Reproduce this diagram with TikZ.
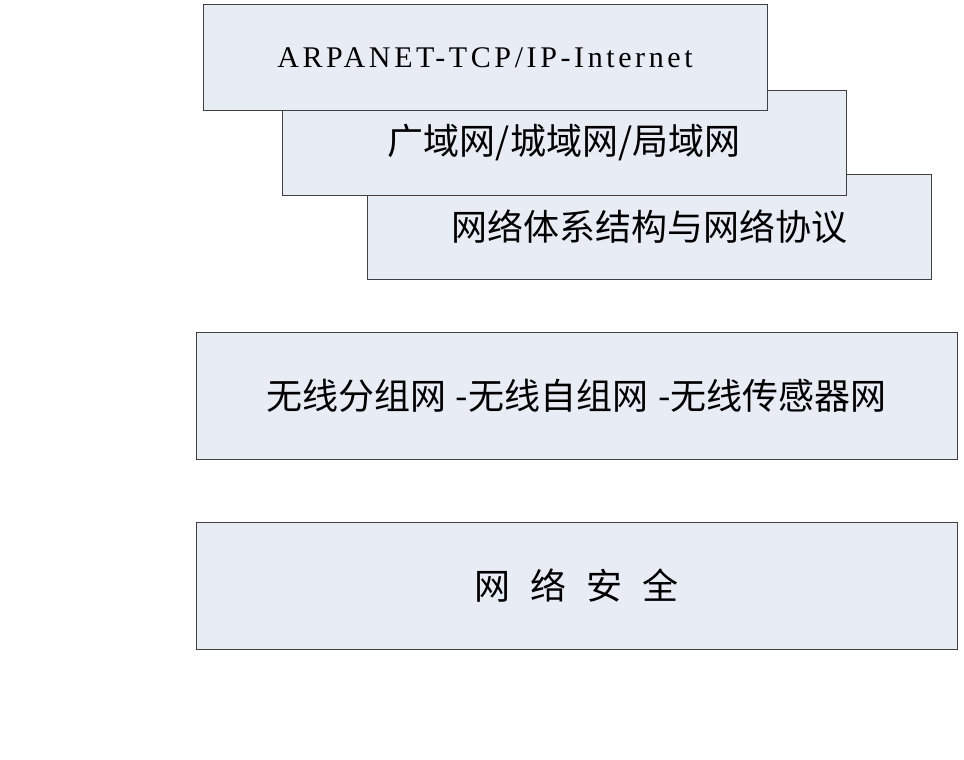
\documentclass[tikz,border=0pt]{standalone}
\usepackage{fontspec}
\newfontfamily\cjk{Noto Sans CJK SC}
\newfontfamily\latinserif[LetterSpace=12]{Liberation Serif}
\newcommand\gapsec{\hspace{20pt}}
\newcommand\gapdash{\hspace{10pt}}
\definecolor{boxfill}{HTML}{E8ECF5}
\definecolor{boxline}{HTML}{404040}
\begin{document}
\begin{tikzpicture}[x=1pt,y=-1pt,
  layerbox/.style={draw=boxline, fill=boxfill, line width=1pt, anchor=north west,
    inner sep=0pt, outer sep=0pt, align=center},
  small/.style={layerbox, minimum width=564pt, minimum height=105pt},
  wide/.style={layerbox, minimum width=761pt, minimum height=127pt},
  cjktext/.style={font=\cjk\fontsize{36}{40}\selectfont}]
\useasboundingbox (0,0) rectangle (964,760);
\node[small, cjktext] (arch) at (367,174) {网络体系结构与网络协议};
\node[small, cjktext] (wan) at (282,90) {广域网/城域网/局域网};
\node[small, font=\latinserif\fontsize{30}{34}\selectfont] (arpa) at (203,5) {ARPANET-TCP/IP-Internet};
\node[wide, cjktext] (wireless) at (196,332) {无线分组网\gapdash-无线自组网\gapdash-无线传感器网};
\node[wide, cjktext] (sec) at (196,522) {网\gapsec 络\gapsec 安\gapsec 全};
\end{tikzpicture}
\end{document}
